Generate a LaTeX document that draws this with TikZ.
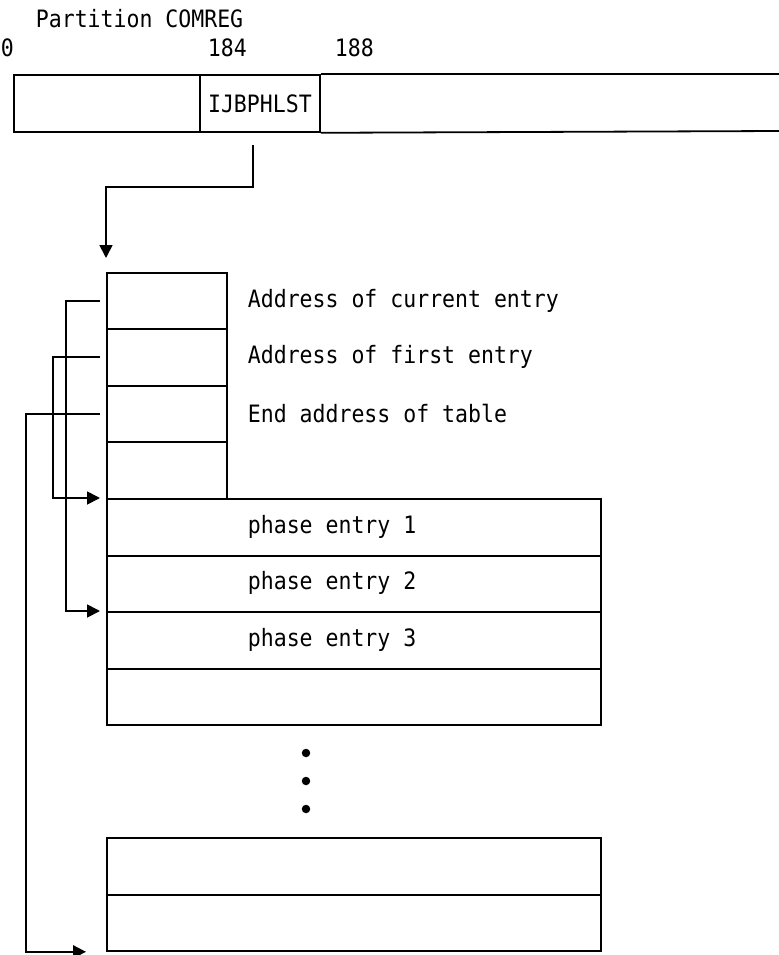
\documentclass[tikz,border=0pt]{standalone}
\usepackage{fontspec}
\setmonofont[FakeStretch=0.9]{DejaVu Sans Mono}
\usetikzlibrary{arrows.meta}
\begin{document}
\begin{tikzpicture}[x=1bp,y=-1bp, line width=1.8bp,
  cell/.style={draw, rectangle, inner sep=0pt, anchor=north west},
  lbl/.style={font=\ttfamily\fontsize{24}{26}\selectfont, inner sep=0pt},
  ptr/.style={-{Triangle[length=13bp,width=13bp]}},
  dot/.style={circle, fill, inner sep=0pt, minimum size=8.5bp}]
\useasboundingbox (0,0) rectangle (779,955);

% header labels
\node[lbl, anchor=base west] (title) at (35,27) {Partition COMREG};
\node[lbl, anchor=base west] (o0) at (0,56) {0};
\node[lbl, anchor=base west] (o184) at (207,56) {184};
\node[lbl, anchor=base west] (o188) at (334,56) {188};

% partition COMREG row
\node[cell, minimum width=186bp, minimum height=57bp] (r0) at (13,74) {};
\node[cell, minimum width=120bp, minimum height=57bp, lbl] (r1) at (199,74) {IJBPHLST};
\coordinate (r2ne) at (779,74);
\coordinate (r2se) at (779,131);
\draw (r1.north east) -- (r2ne);
\draw (r1.south east) -- (r2se);

% small table
\node[cell, minimum width=120bp, minimum height=56bp] (a1) at (106,272) {};
\node[cell, minimum width=120bp, minimum height=57bp] (a2) at (106,328) {};
\node[cell, minimum width=120bp, minimum height=56bp] (a3) at (106,385) {};
\node[cell, minimum width=120bp, minimum height=57bp] (a4) at (106,441) {};
\node[lbl, anchor=west] (la1) at (247,300.5) {Address of current entry};
\node[lbl, anchor=west] (la2) at (247,357) {Address of first entry};
\node[lbl, anchor=west] (la3) at (247,413.5) {End address of table};

% phase table
\node[cell, minimum width=494bp, minimum height=57bp] (b1) at (106,498) {};
\node[cell, minimum width=494bp, minimum height=56bp] (b2) at (106,555) {};
\node[cell, minimum width=494bp, minimum height=57bp] (b3) at (106,611) {};
\node[cell, minimum width=494bp, minimum height=56bp] (b4) at (106,668) {};
\node[lbl, anchor=west] (lb1) at (247,526.5) {phase entry 1};
\node[lbl, anchor=west] (lb2) at (247,583) {phase entry 2};
\node[lbl, anchor=west] (lb3) at (247,639.5) {phase entry 3};

% dots
\node[dot] (d1) at (306,753) {};
\node[dot] (d2) at (306,781) {};
\node[dot] (d3) at (306,809) {};

% last entries
\node[cell, minimum width=494bp, minimum height=57bp] (c1) at (106,837) {};
\node[cell, minimum width=494bp, minimum height=56bp] (c2) at (106,894) {};

% connectors
\coordinate (p0) at (253,145);
\draw[ptr] (p0) -- (253,187) -| ([yshift=14bp]a1.north west);

\draw[ptr] ([xshift=-6bp]a1.west) -- ++(-34bp,0) |- ([xshift=-6bp]b3.north west);
\draw[ptr] ([xshift=-6bp,yshift=0.5bp]a2.west) -- ++(-47bp,0) |- ([xshift=-6bp]b1.north west);
\draw[ptr] ([xshift=-6bp]a3.west) -- ++(-74bp,0) |- ([xshift=-20bp]c2.south west);
\end{tikzpicture}
\end{document}
